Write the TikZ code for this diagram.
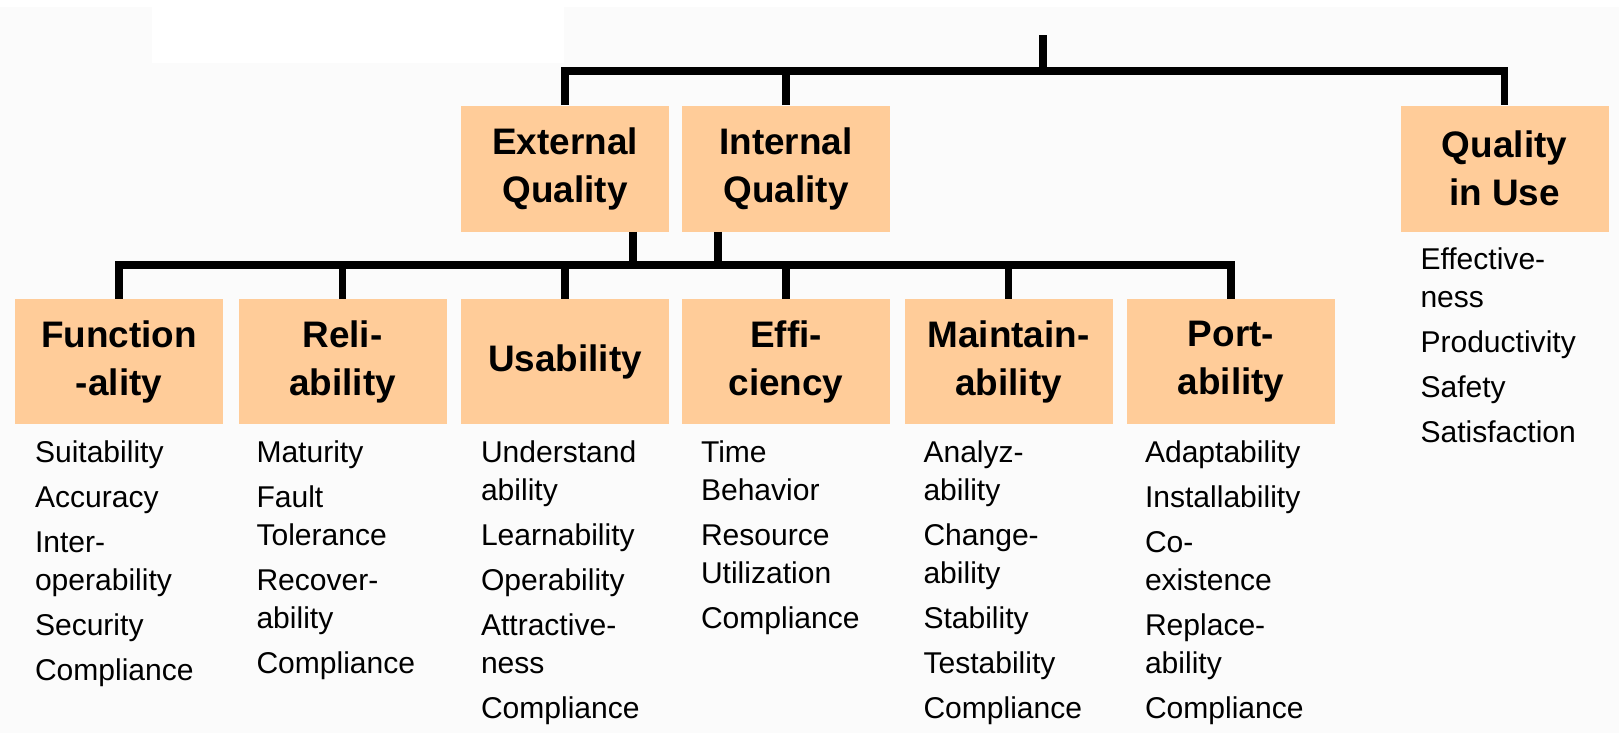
\documentclass[tikz,border=0pt]{standalone}
\usepackage{fontspec}
\setmainfont{Liberation Sans}
\usetikzlibrary{positioning}
\definecolor{boxorange}{HTML}{FFCC99}
\definecolor{paper}{RGB}{251,251,251}
\newcommand{\nextitem}{\\[0.14cm]}

\tikzset{
  attr/.style={fill=boxorange, minimum width=4.16cm, minimum height=2.52cm, inner sep=0pt, align=center, font=\fontsize{21pt}{27.3pt}\selectfont\bfseries},
  sub/.style={inner sep=0pt, align=left, font=\fontsize{17.1pt}{21.6pt}\selectfont},
  tree/.style={line width=4pt}
}

\begin{document}
\begin{tikzpicture}
\fill[paper] (0,0) rectangle (32.38,-14.66);
\fill[white] (0,0) rectangle (32.38,-0.14);
\fill[white] (3.04,-0.14) rectangle (11.28,-1.26);
\useasboundingbox (0,0) rectangle (32.38,-14.66);

% top level
\node[attr] (ext) at (11.30,-3.37) {External\\Quality};
\node[attr] (int) at (15.72,-3.37) {Internal\\Quality};
\node[attr] (qiu) at (30.09,-3.37) {Quality\\in Use};

% characteristics
\node[attr, minimum height=2.50cm] (fun) at (2.38,-7.23) {Function\\-ality};
\node[attr, minimum height=2.50cm] (rel) at (6.85,-7.23) {Reli-\\ability};
\node[attr, minimum height=2.50cm] (use) at (11.30,-7.23) {Usability};
\node[attr, minimum height=2.50cm] (eff) at (15.72,-7.23) {Effi-\\ciency};
\node[attr, minimum height=2.50cm] (maint) at (20.17,-7.23) {Maintain-\\ability};
\node[attr, minimum height=2.50cm] (port) at (24.62,-7.23) {Port-\\ability};

% sub-characteristics
\node[sub, below right=0.32cm and 0.40cm of fun.south west] (funlist) {Suitability\nextitem Accuracy\nextitem Inter-\\operability\nextitem Security\nextitem Compliance};
\node[sub, below right=0.32cm and 0.36cm of rel.south west] (rellist) {Maturity\nextitem Fault\\Tolerance\nextitem Recover-\\ability\nextitem Compliance};
\node[sub, below right=0.32cm and 0.40cm of use.south west] (uselist) {Understand\\ability\nextitem Learnability\nextitem Operability\nextitem Attractive-\\ness\nextitem Compliance};
\node[sub, below right=0.32cm and 0.38cm of eff.south west] (efflist) {Time\\Behavior\nextitem Resource\\Utilization\nextitem Compliance};
\node[sub, below right=0.32cm and 0.38cm of maint.south west] (maintlist) {Analyz-\\ability\nextitem Change-\\ability\nextitem Stability\nextitem Testability\nextitem Compliance};
\node[sub, below right=0.32cm and 0.36cm of port.south west] (portlist) {Adaptability\nextitem Installability\nextitem Co-\\existence\nextitem Replace-\\ability\nextitem Compliance};
\node[sub, below right=0.32cm and 0.40cm of qiu.south west] (qiulist) {Effective-\\ness\nextitem Productivity\nextitem Safety\nextitem Satisfaction};

% tree lines
\coordinate (root) at (20.86,-0.70);
\coordinate (hub) at (20.86,-1.42);
\coordinate (bus) at (11.30,-5.30);
\draw[tree] (root) -- (hub);
\draw[tree] (ext.north) |- (hub) -| (qiu.north);
\draw[tree] (int.north) -- (int.north |- hub);
\draw[tree] ([xshift=1.36cm]ext.south) -- ([xshift=1.36cm]ext.south |- bus);
\draw[tree] ([xshift=-1.36cm]int.south) -- ([xshift=-1.36cm]int.south |- bus);
\draw[tree] (fun.north) |- (bus) -| (port.north);
\draw[tree] (rel.north) -- (rel.north |- bus);
\draw[tree] (use.north) -- (use.north |- bus);
\draw[tree] (eff.north) -- (eff.north |- bus);
\draw[tree] (maint.north) -- (maint.north |- bus);
\end{tikzpicture}
\end{document}
